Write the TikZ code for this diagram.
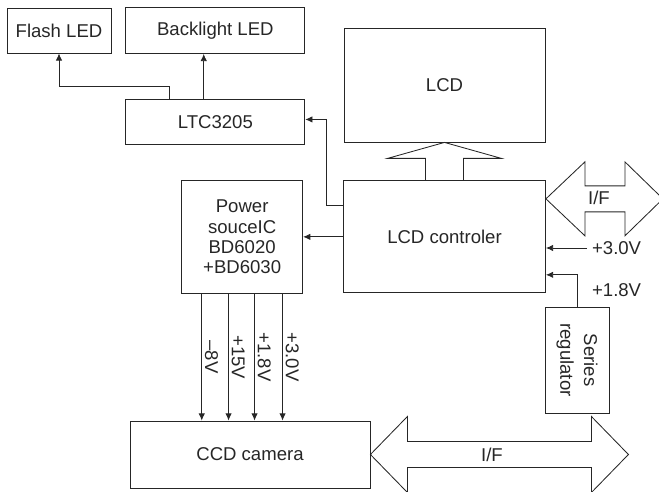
\documentclass[tikz,border=0pt]{standalone}
\usepackage{fontspec}
\setmainfont{Liberation Sans}
\usetikzlibrary{arrows.meta,positioning}

\begin{document}
\begin{tikzpicture}[x=0.25mm, y=-0.25mm, >={Latex[length=1.8mm,width=1.6mm]},
    font=\fontsize{13.2}{14.3}\selectfont, line width=0.6pt, black!85,
    blk/.style={draw, rectangle, align=center, inner sep=1pt}]
  \useasboundingbox (0,0) rectangle (659,492);
  \node[blk, minimum width=26mm, minimum height=11.25mm] (flash) at (59,30.5) {Flash LED};
  \node[blk, right=3.5mm of flash, minimum width=44.75mm, minimum height=11.5mm] (backlight) {Backlight LED};
  \node[blk, below=11.25mm of backlight, minimum width=44.75mm, minimum height=11.25mm] (ltc) {LTC3205};
  \node[blk, minimum width=50.25mm, minimum height=28.5mm] (lcd) at (444.5,85) {LCD};
  \node[blk, below=9.5mm of lcd, minimum width=50.5mm, minimum height=28mm] (ctrl) {LCD controler};
  \node[blk, left=10mm of ctrl, minimum width=30.25mm, minimum height=28.25mm] (power) {Power\\souceIC\\BD6020\\+BD6030};
  \node[blk, minimum width=60mm, minimum height=16.75mm] (ccd) at (250,454.5) {CCD camera};
  \node[blk, rotate=-90, minimum width=26.5mm, minimum height=16mm] (reg) at (577,360) {Series\\[2.5pt]regulator};

  % LED driver
  \draw[->] ([xshift=-11.6mm]ltc.north) -- ++(0,3mm) -| (flash.south);
  \draw[->] ([xshift=-2.9mm]ltc.north) coordinate (bl) -- (bl |- backlight.south);
  \draw[->] ([yshift=7.75mm]ctrl.west) -- ++(-4.25mm,0) |- ([yshift=0.6mm]ltc.east);
  \draw[->] (ctrl.west) -- (power.east);

  % supply lines to camera
  \foreach \dx/\volt [count=\i] in {-10.1/{–8V}, -3.4/{+15V}, 3.1/{+1.8V}, 10.1/{+3.0V}}
    \draw[->] ([xshift=\dx mm]power.south) coordinate (p\i) -- (p\i |- ccd.north)
      node[midway, rotate=-90, anchor=south, inner sep=2pt] {\volt};

  % hollow arrow to LCD
  \draw ([xshift=-4.75mm]ctrl.north) -- ++(0,5.5mm) -- ++(-9.5mm,0) -- (lcd.south)
    -- ++(14.25mm,-4mm) -- ++(-9.5mm,0) -- ([xshift=4.75mm]ctrl.north);

  % interfaces
  \draw ([yshift=9.5mm]ctrl.east) -- ++(39,-37) -- ++(0,24) -- ++(40,0) -- ++(0,-24)
    -- ++(38,37) -- ++(-38,37) -- ++(0,-24) -- ++(-40,0) -- ++(0,24) -- cycle;
  \node (ifctrl) at (599,198) {I/F};
  \draw (ccd.east) -- ++(37,-38) -- ++(0,25) -- ++(184,0) -- ++(0,-25)
    -- ++(37,38) -- ++(-37,38) -- ++(0,-25) -- ++(-184,0) -- ++(0,25) -- cycle;
  \node (ifccd) at (492,455) {I/F};

  % controller supplies
  \node[anchor=west] (v30) at (587,248) {+3.0V};
  \draw[->] (v30.west) -- (v30.west -| ctrl.east);
  \node[anchor=west] (v18) at (587,290) {+1.8V};
  \draw[->] (reg.west) |- ([yshift=-9.5mm]ctrl.east);
\end{tikzpicture}
\end{document}
